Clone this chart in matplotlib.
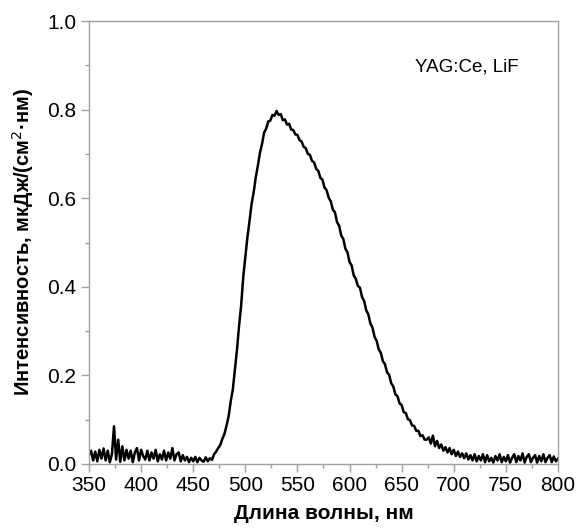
"""Luminescence spectrum of YAG:Ce, LiF (intensity vs wavelength)."""

import numpy as np
import matplotlib
matplotlib.use("Agg")
import matplotlib.pyplot as plt
from matplotlib.ticker import MultipleLocator

# Wavelength grid, nm (2 nm step, 350..800)
wavelength = np.arange(350, 801, 2)

# Intensity, uJ/(cm^2*nm)
intensity = [
    0.02, 0.03, 0.008, 0.028, 0.006, 0.032, 0.012, 0.035, 0.008, 0.03,     # 350-368
    0.004, 0.022, 0.085, 0.01, 0.055, 0.005, 0.04, 0.008, 0.032, 0.012,    # 370-388
    0.03, 0.004, 0.026, 0.036, 0.008, 0.032, 0.018, 0.01, 0.03, 0.008,     # 390-408
    0.026, 0.012, 0.032, 0.006, 0.022, 0.01, 0.03, 0.008, 0.026, 0.012,    # 410-428
    0.036, 0.008, 0.022, 0.026, 0.006, 0.02, 0.008, 0.016, 0.004, 0.014,   # 430-448
    0.006, 0.016, 0.004, 0.014, 0.008, 0.005, 0.015, 0.006, 0.013, 0.009,  # 450-468
    0.022, 0.028, 0.036, 0.043, 0.057, 0.068, 0.087, 0.108, 0.142, 0.168,  # 470-488
    0.212, 0.258, 0.312, 0.358, 0.422, 0.468, 0.512, 0.548, 0.587, 0.613,  # 490-508
    0.647, 0.673, 0.702, 0.722, 0.748, 0.757, 0.773, 0.775, 0.788, 0.786,  # 510-528
    0.797, 0.788, 0.79, 0.776, 0.778, 0.766, 0.768, 0.755, 0.754, 0.744,   # 530-548
    0.743, 0.731, 0.728, 0.716, 0.713, 0.7, 0.698, 0.684, 0.681, 0.666,    # 550-568
    0.662, 0.646, 0.642, 0.624, 0.618, 0.601, 0.593, 0.574, 0.568, 0.546,  # 570-588
    0.538, 0.516, 0.508, 0.486, 0.478, 0.456, 0.448, 0.426, 0.418, 0.402,  # 590-608
    0.398, 0.377, 0.368, 0.347, 0.338, 0.317, 0.308, 0.287, 0.278, 0.259,  # 610-628
    0.251, 0.232, 0.225, 0.207, 0.201, 0.182, 0.175, 0.157, 0.153, 0.137,  # 630-648
    0.133, 0.117, 0.115, 0.101, 0.099, 0.087, 0.086, 0.075, 0.075, 0.063,  # 650-668
    0.065, 0.055, 0.055, 0.06, 0.046, 0.064, 0.04, 0.052, 0.036, 0.044,    # 670-688
    0.03, 0.038, 0.026, 0.036, 0.022, 0.032, 0.018, 0.028, 0.016, 0.024,   # 690-708
    0.013, 0.024, 0.01, 0.02, 0.008, 0.022, 0.006, 0.018, 0.008, 0.022,    # 710-728
    0.004, 0.02, 0.006, 0.014, 0.003, 0.018, 0.008, 0.022, 0.004, 0.016,   # 730-748
    0.006, 0.02, 0.003, 0.014, 0.022, 0.004, 0.018, 0.008, 0.024, 0.003,   # 750-768
    0.016, 0.022, 0.004, 0.014, 0.02, 0.003, 0.018, 0.006, 0.022, 0.004,   # 770-788
    0.014, 0.02, 0.004, 0.017, 0.006, 0.012,                               # 790-800
]

x_ticks = [350, 400, 450, 500, 550, 600, 650, 700, 750, 800]
y_ticks = [0.0, 0.2, 0.4, 0.6, 0.8, 1.0]

plt.rcParams["font.family"] = ["Liberation Sans", "DejaVu Sans"]

fig = plt.figure(figsize=(5.79, 5.31), dpi=100)
ax = fig.add_axes([0.1537, 0.1262, 0.81, 0.8342])

ax.plot(wavelength, intensity, color="black", lw=1.8)

ax.set_xlim(350, 800)
ax.set_ylim(0, 1.0)
ax.set_xticks(x_ticks)
ax.set_yticks(y_ticks)
ax.set_yticklabels([f"{v:.1f}" for v in y_ticks])
ax.xaxis.set_minor_locator(MultipleLocator(25))
ax.yaxis.set_minor_locator(MultipleLocator(0.1))

spine_color = "#a0a0a0"
for s in ax.spines.values():
    s.set_color(spine_color)
    s.set_linewidth(1.0)
ax.tick_params(which="both", direction="out", color=spine_color,
               labelsize=15, labelcolor="black")
ax.tick_params(which="major", length=6, width=1.0, pad=3)
ax.tick_params(which="minor", length=3, width=1.0)

ax.set_xlabel("Длина волны, нм", fontsize=15, fontweight="bold", labelpad=6)
ax.set_ylabel("Интенсивность, мкДж/(см$^2$·нм)", fontsize=14.5,
              fontweight="bold", labelpad=8)

ax.text(713, 0.896, "YAG:Ce, LiF", ha="center", va="center", fontsize=13.5)

fig.savefig("out.png", dpi=100)
